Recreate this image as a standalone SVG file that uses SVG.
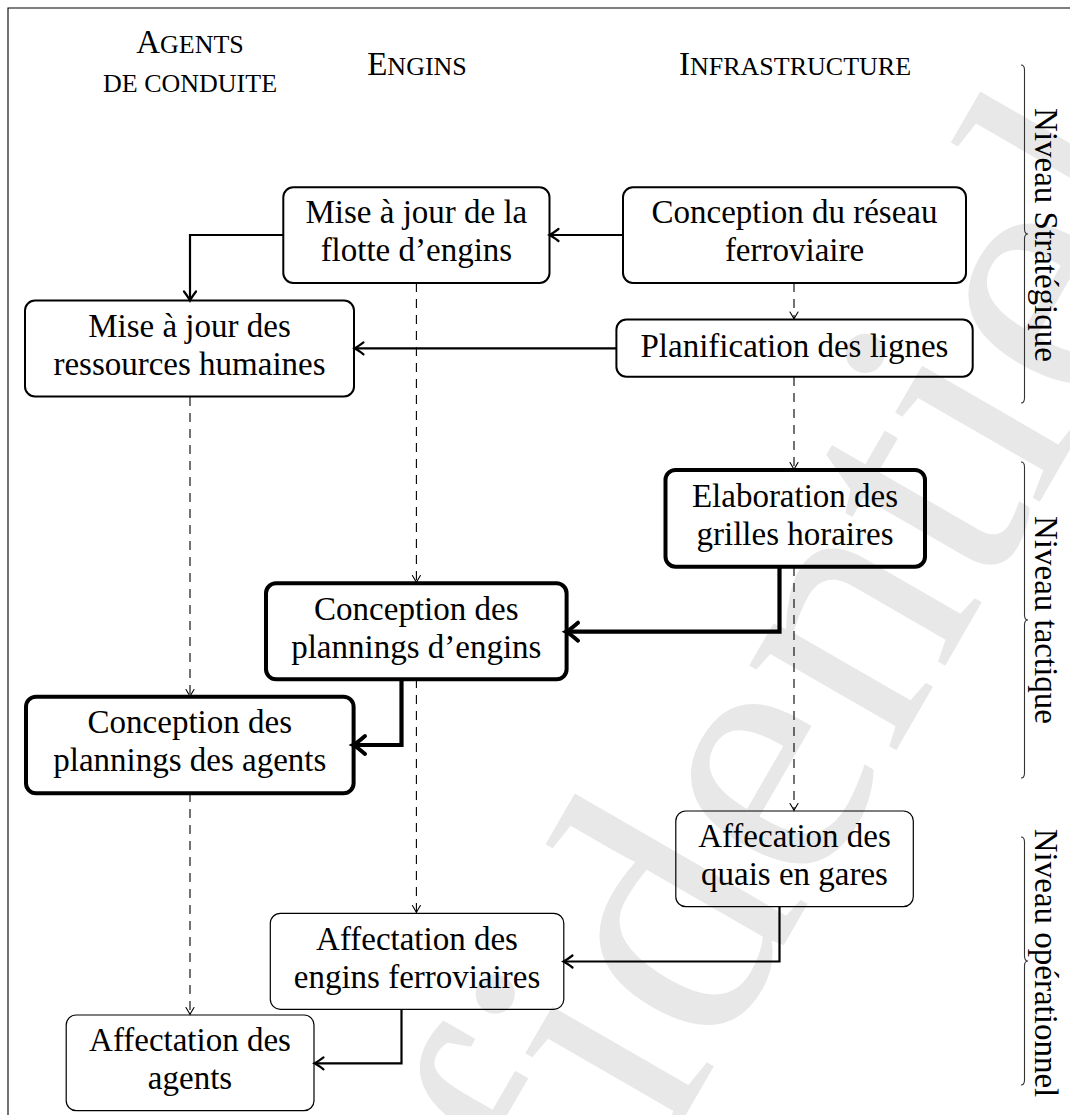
<svg xmlns="http://www.w3.org/2000/svg" width="1070" height="1115" viewBox="0 0 1070 1115">
<style>
text{font-family:"Liberation Serif","Times New Roman",serif;fill:#000}
.t{font-size:33px;text-anchor:middle}
.h{font-size:33px;text-anchor:middle}
.sc{font-size:26px}
.box{fill:none;stroke:#000;stroke-width:2}
.thick{fill:none;stroke:#000;stroke-width:4}
.thin{fill:none;stroke:#000;stroke-width:1.2}
.med{fill:none;stroke:#000;stroke-width:2.2;marker-end:url(#aMed)}
.hv{fill:none;stroke:#000;stroke-width:4.2;marker-end:url(#aThick)}
.dash{fill:none;stroke:#000;stroke-width:1.1;stroke-dasharray:9 7;marker-end:url(#aThin)}
.brace{fill:none;stroke:#333;stroke-width:1.1}
.lvl{font-size:33px;text-anchor:middle}
.wm{font-size:370px;fill:#e8e8e8}
</style>
<defs>
<marker id="aThin" markerUnits="userSpaceOnUse" viewBox="-10 -6 12 12" refX="-0.5" refY="0" markerWidth="12" markerHeight="12" orient="auto" overflow="visible">
<path d="M-7,-4 Q-2,-1 0,0 Q-2,1 -7,4" fill="none" stroke="#000" stroke-width="1.1" stroke-linecap="round"/>
</marker>
<marker id="aMed" markerUnits="userSpaceOnUse" viewBox="-12 -8 14 16" refX="-1.5" refY="0" markerWidth="14" markerHeight="16" orient="auto" overflow="visible">
<path d="M-9,-6 Q-3,-1.5 0,0 Q-3,1.5 -9,6" fill="none" stroke="#000" stroke-width="2.2" stroke-linecap="round"/>
</marker>
<marker id="aThick" markerUnits="userSpaceOnUse" viewBox="-15 -11 17 22" refX="-3" refY="0" markerWidth="17" markerHeight="22" orient="auto" overflow="visible">
<path d="M-12,-9 Q-4,-2 0,0 Q-4,2 -12,9" fill="none" stroke="#000" stroke-width="4" stroke-linecap="round"/>
</marker>
</defs>
<g id="watermark">
<text class="wm" transform="translate(296,1790) rotate(-60)">Confidentiel</text>
</g>
<g id="frame">
<path d="M8,1115 V8 H1070" fill="none" stroke="#000" stroke-width="1.1"/>
</g>
<g id="headers">
<text class="h" x="190" y="53">A<tspan class="sc">GENTS</tspan></text>
<text class="h sc" x="190" y="92">DE CONDUITE</text>
<text class="h" x="417" y="75">E<tspan class="sc">NGINS</tspan></text>
<text class="h" x="795" y="75">I<tspan class="sc">NFRASTRUCTURE</tspan></text>
</g>
<g id="connectors">
<path class="dash" d="M416.4,283 V582"/>
<path class="dash" d="M416.4,679 V912"/>
<path class="dash" d="M190,397 V696"/>
<path class="dash" d="M190,793 V1014"/>
<path class="dash" d="M794,283 V318.5"/>
<path class="dash" d="M794,377 V469"/>
<path class="dash" d="M794,567 V810"/>
<path class="med" d="M623,235 H551"/>
<path class="med" d="M283,235 H190 V299"/>
<path class="med" d="M616,348.3 H356"/>
<path class="hv" d="M779.5,567 V631.7 H569"/>
<path class="hv" d="M401.5,679 V745 H356"/>
<path class="med" d="M779.5,907 V961.5 H565"/>
<path class="med" d="M401.5,1009.5 V1063.3 H316"/>
</g>
<g id="n-flotte">
<rect class="box" x="283.3" y="187.3" width="266.2" height="95.6" rx="10"/>
<text class="t" x="416.4" y="223">Mise à jour de la</text>
<text class="t" x="416.4" y="261">flotte d’engins</text>
</g>
<g id="n-reseau">
<rect class="box" x="623" y="187.3" width="343" height="95.6" rx="10"/>
<text class="t" x="794.5" y="223">Conception du réseau</text>
<text class="t" x="794.5" y="261">ferroviaire</text>
</g>
<g id="n-rh">
<rect class="box" x="25" y="300.5" width="329" height="96" rx="10"/>
<text class="t" x="189.5" y="337">Mise à jour des</text>
<text class="t" x="189.5" y="375">ressources humaines</text>
</g>
<g id="n-planif">
<rect class="box" x="616.4" y="319.5" width="356.3" height="57.2" rx="10"/>
<text class="t" x="794.5" y="356.5">Planification des lignes</text>
</g>
<g id="n-grilles">
<rect class="thick" x="665.5" y="470" width="259.5" height="96.7" rx="10"/>
<text class="t" x="795" y="506.5">Elaboration des</text>
<text class="t" x="795" y="544.5">grilles horaires</text>
</g>
<g id="n-plan-engins">
<rect class="thick" x="266" y="583.3" width="300.6" height="96" rx="10"/>
<text class="t" x="416.3" y="619.5">Conception des</text>
<text class="t" x="416.3" y="657.5">plannings d’engins</text>
</g>
<g id="n-plan-agents">
<rect class="thick" x="26" y="696.7" width="327.6" height="96.6" rx="10"/>
<text class="t" x="189.8" y="733">Conception des</text>
<text class="t" x="189.8" y="771">plannings des agents</text>
</g>
<g id="n-quais">
<rect class="thin" x="675.8" y="811" width="237.5" height="95.7" rx="10"/>
<text class="t" x="794.5" y="847">Affecation des</text>
<text class="t" x="794.5" y="885">quais en gares</text>
</g>
<g id="n-aff-engins">
<rect class="thin" x="270.3" y="913.3" width="293.5" height="96" rx="10"/>
<text class="t" x="417" y="949.5">Affectation des</text>
<text class="t" x="417" y="987.5">engins ferroviaires</text>
</g>
<g id="n-aff-agents">
<rect class="thin" x="66.2" y="1015" width="247.8" height="95.7" rx="10"/>
<text class="t" x="190" y="1051">Affectation des</text>
<text class="t" x="190" y="1089">agents</text>
</g>
<g id="levels">
<path class="brace" d="M1021,65 Q1024.5,65 1024.5,70 V229 Q1024.5,234 1028,234 Q1024.5,234 1024.5,239 V398 Q1024.5,403 1021,403"/>
<path class="brace" d="M1021,462 Q1024.5,462 1024.5,467 V615 Q1024.5,620 1028,620 Q1024.5,620 1024.5,625 V773 Q1024.5,778 1021,778"/>
<path class="brace" d="M1021,837 Q1024.5,837 1024.5,842 V956 Q1024.5,961 1028,961 Q1024.5,961 1024.5,966 V1080 Q1024.5,1085 1021,1085"/>
<text class="lvl" transform="translate(1035,235) rotate(90)">Niveau Stratégique</text>
<text class="lvl" transform="translate(1035,620) rotate(90)">Niveau tactique</text>
<text class="lvl" transform="translate(1035,963) rotate(90)">Niveau opérationnel</text>
</g>
</svg>
